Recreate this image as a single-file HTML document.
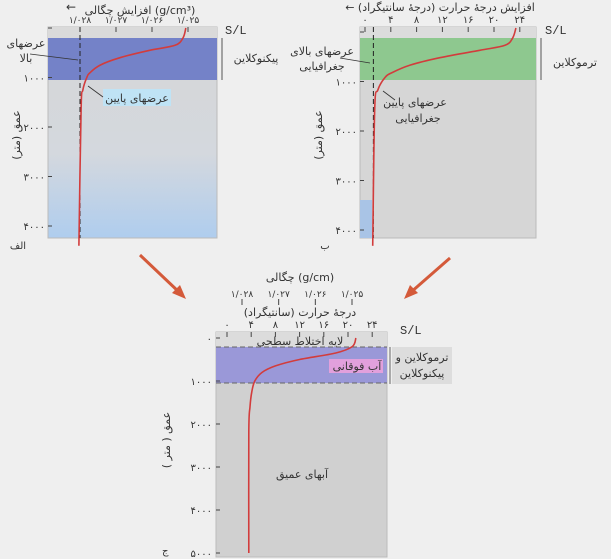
<!DOCTYPE html>
<html><head><meta charset="utf-8">
<style>
html,body{margin:0;padding:0;background:#efefef;}
svg{display:block;font-family:"DejaVu Sans","Liberation Sans",sans-serif;}
</style></head>
<body>
<svg id="fig" width="611" height="559" viewBox="0 0 611 559" xmlns="http://www.w3.org/2000/svg">
<rect x="0" y="0" width="611" height="559" fill="#efefef"/>
<defs>
<linearGradient id="gA" x1="0" y1="0" x2="0" y2="1">
<stop offset="0" stop-color="#d6d6d6"/><stop offset="0.6" stop-color="#d4d8de"/><stop offset="1" stop-color="#afcdee"/>
</linearGradient>
</defs>
<g id="panelA">
<rect x="48" y="27" width="169" height="211" fill="url(#gA)" stroke="#bbb"/>
<rect x="48" y="27" width="169" height="11" fill="#dadada"/>
<rect x="48" y="38" width="169" height="42" fill="#7482c8"/>
<text x="140" y="14" font-size="11" text-anchor="middle" fill="#333">افزایش چگالی (g/cm³)</text>
<text x="66" y="11" font-size="12" fill="#333">←</text>
<text x="225" y="34" font-size="12" fill="#333" font-family="Liberation Mono">S/L</text>
<line x1="222" y1="38" x2="222" y2="80" stroke="#555"/>
<text x="256" y="62" font-size="11" text-anchor="middle" fill="#333">پیکنوکلاین</text>
<text x="26" y="47" font-size="11" text-anchor="middle" fill="#333">عرضهای</text>
<text x="26" y="62" font-size="11" text-anchor="middle" fill="#333">بالا</text>
<line x1="30" y1="54" x2="78" y2="60" stroke="#333" stroke-width="0.8"/>
<rect x="103" y="89" width="68" height="17" fill="#bfe3f5"/>
<text x="137" y="102" font-size="11" text-anchor="middle" fill="#333">عرضهای پایین</text>
<line x1="103" y1="97" x2="88" y2="86" stroke="#333" stroke-width="0.8"/>
<text x="18" y="249" font-size="10" text-anchor="middle" fill="#333">الف</text>
<text transform="translate(20,135) rotate(-90)" font-size="11" text-anchor="middle" fill="#333">عمق (متر)</text>
</g>
<g id="panelB">
<rect x="360" y="27" width="176" height="211" fill="#d6d6d6" stroke="#bbb"/>
<rect x="360" y="27" width="176" height="11" fill="#dcdcdc"/>
<rect x="360" y="38" width="176" height="42" fill="#8ec88f"/>
<rect x="360" y="200" width="12" height="38" fill="#a9c4e6"/>
<text x="440" y="11" font-size="11" text-anchor="middle" fill="#333">← افزایش درجهٔ حرارت (درجهٔ سانتیگراد)</text>
<text x="545" y="34" font-size="12" fill="#333" font-family="Liberation Mono">S/L</text>
<line x1="541" y1="38" x2="541" y2="80" stroke="#555"/>
<text x="575" y="66" font-size="11" text-anchor="middle" fill="#333">ترموکلاین</text>
<text x="322" y="55" font-size="11" text-anchor="middle" fill="#333">عرضهای بالای</text>
<text x="322" y="70" font-size="11" text-anchor="middle" fill="#333">جغرافیایی</text>
<line x1="340" y1="58" x2="370" y2="63" stroke="#333" stroke-width="0.8"/>
<text x="415" y="106" font-size="11" text-anchor="middle" fill="#333">عرضهای پایین</text>
<text x="418" y="122" font-size="11" text-anchor="middle" fill="#333">جغرافیایی</text>
<line x1="395" y1="100" x2="383" y2="91" stroke="#333" stroke-width="0.8"/>
<text x="325" y="249" font-size="10" text-anchor="middle" fill="#333">ب</text>
<text transform="translate(322,135) rotate(-90)" font-size="11" text-anchor="middle" fill="#333">عمق (متر)</text>
</g>
<g id="panelC">
<rect x="216" y="332" width="171" height="225" fill="#d0d0d0" stroke="#bbb"/>
<rect x="216" y="332" width="171" height="15" fill="#dcdcdc"/>
<rect x="216" y="347" width="171" height="36" fill="#9a98d8"/>
<line x1="216" y1="347" x2="387" y2="347" stroke="#666" stroke-dasharray="5,3"/>
<line x1="216" y1="383" x2="387" y2="383" stroke="#666" stroke-dasharray="5,3"/>
<text x="300" y="345" font-size="11" text-anchor="middle" fill="#333">لایه اختلاط سطحی</text>
<rect x="329" y="359" width="54" height="14" fill="#e2a0dc"/>
<text x="357" y="370" font-size="11" text-anchor="middle" fill="#333">آب فوقانی</text>
<rect x="392" y="347" width="60" height="37" fill="#dddddd"/>
<line x1="390" y1="347" x2="390" y2="384" stroke="#666"/>
<text x="422" y="361" font-size="11" text-anchor="middle" fill="#333">ترموکلاین و</text>
<text x="422" y="377" font-size="11" text-anchor="middle" fill="#333">پیکنوکلاین</text>
<text x="302" y="478" font-size="11" text-anchor="middle" fill="#333">آبهای عمیق</text>
<text x="300" y="281" font-size="11" text-anchor="middle" fill="#333">چگالی (g/cm)</text>
<text x="300" y="316" font-size="11" text-anchor="middle" fill="#333">درجهٔ حرارت (سانتیگراد)</text>
<text x="400" y="334" font-size="12" fill="#333" font-family="Liberation Mono">S/L</text>
<text x="162" y="554" font-size="10" fill="#333">ج</text>
<text transform="translate(170,440) rotate(-90)" font-size="11" text-anchor="middle" fill="#333">عمق ( متر )</text>
</g>
<path d="M140,255 L180,293" stroke="#d45a3a" stroke-width="3" fill="none"/>
<polygon points="186,299 172,293 180,285" fill="#d45a3a"/>
<path d="M450,258 L410,293" stroke="#d45a3a" stroke-width="3" fill="none"/>
<polygon points="404,299 410,285 418,293" fill="#d45a3a"/>
<g id="dyn"></g>
</svg>
<script>
const depthTicks=[0,1000,2000,3000,4000];
const depthTicksC=[0,1000,2000,3000,4000,5000];
const densityTicks=[1.028,1.027,1.026,1.025];
const densityTickLabels=["۱/۰۲۸","۱/۰۲۷","۱/۰۲۶","۱/۰۲۵"];
const tempTicks=[0,4,8,12,16,20,24];
const tempTickLabels=["۰","۴","۸","۱۲","۱۶","۲۰","۲۴"];
const depthLabels=["۰","۱۰۰۰","۲۰۰۰","۳۰۰۰","۴۰۰۰","۵۰۰۰"];
const profileDepths=[0,200,350,450,600,750,900,1000,1250,1650,4400];
const densityValues=[1.02506,1.02514,1.02536,1.02606,1.02689,1.02744,1.02772,1.02781,1.02792,1.02797,1.02803];
const tempValues=[23.4,22.9,21.7,17.8,11.6,7.0,4.2,3.1,2.0,1.5,1.2];
const depthsC=[0,200,350,500,650,800,1000,1250,1600,2200,5000];
const tempValuesC=[21.3,20.7,17.9,12.0,8.0,5.8,4.6,4.1,3.8,3.6,3.6];
const highLatDensity=1.028, highLatTemp=1.3;

const NS="http://www.w3.org/2000/svg";
const dyn=document.getElementById('dyn');
function mk(t,a){const e=document.createElementNS(NS,t);for(const k in a)e.setAttribute(k,a[k]);dyn.appendChild(e);return e;}
const yAB=d=>28+d*0.0495;
const yC=d=>338+d*0.043;
const xDen=v=>188+(1.025-v)*36000;
const xTmp=v=>365+v*6.45;
const xTmpC=v=>227+v*6.05;
const xDenC=v=>352+(1.025-v)*36667;
function smooth(pts){let d="M"+pts[0][0]+","+pts[0][1];
 for(let i=0;i<pts.length-1;i++){const p0=pts[Math.max(0,i-1)],p1=pts[i],p2=pts[i+1],p3=pts[Math.min(pts.length-1,i+2)];
 const c1=[p1[0]+(p2[0]-p0[0])/6,p1[1]+(p2[1]-p0[1])/6],c2=[p2[0]-(p3[0]-p1[0])/6,p2[1]-(p3[1]-p1[1])/6];
 d+=" C"+c1[0].toFixed(1)+","+c1[1].toFixed(1)+" "+c2[0].toFixed(1)+","+c2[1].toFixed(1)+" "+p2[0].toFixed(1)+","+p2[1].toFixed(1);}
 return d;}
function txt(x,y,s,size,anchor){const t=mk('text',{x:x,y:y,'font-size':size,'text-anchor':anchor,fill:'#333'});t.textContent=s;return t;}

// Panel A
densityTicks.forEach((v,i)=>{
 const l=mk('line',{x1:xDen(v),y1:27,x2:xDen(v),y2:32,stroke:'#444'});
 
 
 const t=txt(xDen(v),23,densityTickLabels[i],9,'middle');
 
 
});
depthTicks.forEach((d,i)=>{
 const l=mk('line',{x1:48,y1:yAB(d),x2:52,y2:yAB(d),stroke:'#444'});
 
 
 if(i>0){const t=txt(45,yAB(d)+4,depthLabels[i],10,'end');
 
 }
});
let dl=mk('line',{x1:xDen(highLatDensity),y1:27,x2:xDen(highLatDensity),y2:238,stroke:'#222','stroke-dasharray':'5,3'});


let pa=mk('path',{d:smooth(profileDepths.map((d,i)=>[xDen(densityValues[i]),yAB(d)])),stroke:'#d23c3c','stroke-width':1.6,fill:'none'});



// Panel B
tempTicks.forEach((v,i)=>{
 const l=mk('line',{x1:xTmp(v),y1:27,x2:xTmp(v),y2:32,stroke:'#444'});
 
 
 const t=txt(xTmp(v),23,tempTickLabels[i],10,'middle');
 
 
});
depthTicks.forEach((d,i)=>{
 const l=mk('line',{x1:360,y1:yAB(d)+4,x2:364,y2:yAB(d)+4,stroke:'#444'});
 
 
 if(i>0){const t=txt(357,yAB(d)+8,depthLabels[i],10,'end');
 
 }
});
let dlb=mk('line',{x1:xTmp(highLatTemp),y1:27,x2:xTmp(highLatTemp),y2:238,stroke:'#222','stroke-dasharray':'5,3'});


let pb=mk('path',{d:smooth(profileDepths.map((d,i)=>[xTmp(tempValues[i]),yAB(d)])),stroke:'#d23c3c','stroke-width':1.6,fill:'none'});



// Panel C
tempTicks.forEach((v,i)=>{
 const l=mk('line',{x1:xTmpC(v),y1:332,x2:xTmpC(v),y2:337,stroke:'#444'});
 
 
 const t=txt(xTmpC(v),328,tempTickLabels[i],10,'middle');
 
 
});
densityTicks.forEach((v,i)=>{
 const l=mk('line',{x1:xDenC(v),y1:299,x2:xDenC(v),y2:305,stroke:'#444'});
 
 
 const t=txt(xDenC(v),297,densityTickLabels[i],9,'middle');
 
 
});
depthTicksC.forEach((d,i)=>{
 const l=mk('line',{x1:216,y1:yC(d),x2:220,y2:yC(d),stroke:'#444'});
 
 
 const t=txt(212,yC(d)+4,depthLabels[i],10,'end');
 
 
});
let pc=mk('path',{d:smooth(depthsC.map((d,i)=>[xTmpC(tempValuesC[i]),yC(d)])),stroke:'#d23c3c','stroke-width':1.6,fill:'none'});


</script>
</body></html>
